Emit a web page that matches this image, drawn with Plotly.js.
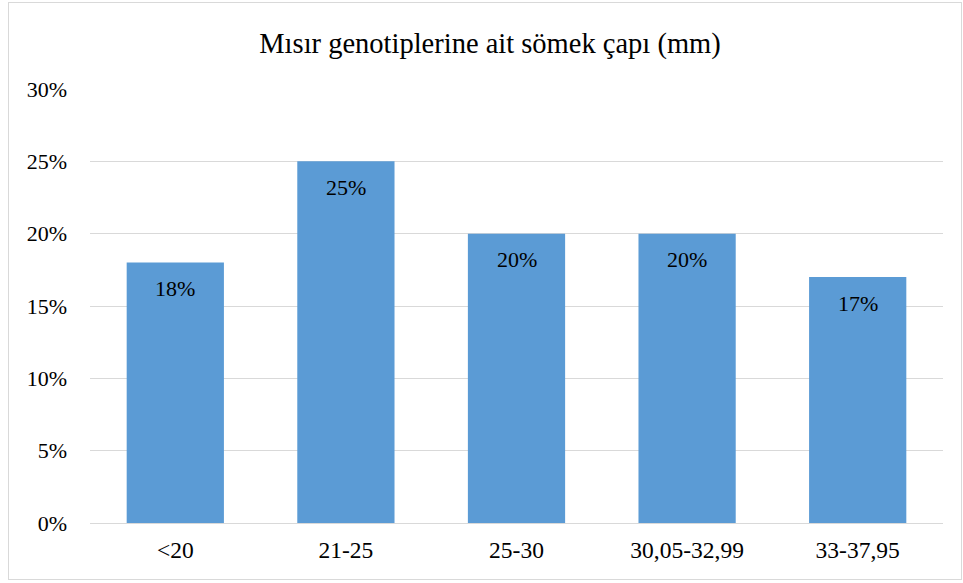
<!DOCTYPE html>
<html>
<head>
<meta charset="utf-8">
<script src="https://cdn.plot.ly/plotly-3.0.1.min.js"></script>
<style>
  html, body { margin: 0; padding: 0; background: #fff; }
  #chart { width: 963px; height: 583px; position: relative; }
  #frame { position: absolute; left: 8px; top: 2px; width: 952px; height: 576px;
           border: 1px solid #d9d9d9; pointer-events: none; }
</style>
</head>
<body>
<div id="chart"><div id="frame"></div></div>
<script>
// Sömek çapı sınıfları ve oranları
const siniflar = ['<20', '21-25', '25-30', '30,05-32,99', '33-37,95'];
const oranlar = [0.18, 0.25, 0.20, 0.20, 0.17];
const etiketler = ['18%', '25%', '20%', '20%', '17%'];

const yaziTipi = 'Liberation Serif, Times New Roman, serif';

const data = [{
    x: siniflar,
    y: oranlar,
    type: 'bar',
    marker: { color: '#5b9bd5' },
    hoverinfo: 'none'
}];

// Etiketler çubuğun üst kısmının biraz altında
const notlar = siniflar.map((s, i) => ({
    x: s,
    y: oranlar[i],
    text: etiketler[i],
    showarrow: false,
    yanchor: 'middle',
    yshift: -26,
    font: { family: yaziTipi, size: 22, color: '#000' }
}));

const layout = {
    width: 963,
    height: 583,
    margin: { l: 90, r: 20, t: 89, b: 60 },
    paper_bgcolor: 'rgba(0,0,0,0)',
    plot_bgcolor: '#fff',
    bargap: 0.43,
    showlegend: false,
    font: { family: yaziTipi, size: 22, color: '#000' },
    title: {
        text: 'Mısır genotiplerine ait sömek çapı (mm)',
        font: { family: yaziTipi, size: 28.5, color: '#000' },
        x: 490 / 963,
        xref: 'container',
        xanchor: 'center',
        y: 1 - 43 / 583,
        yref: 'container',
        yanchor: 'middle'
    },
    xaxis: {
        type: 'category',
        showgrid: false,
        showline: true,
        linecolor: '#d9d9d9',
        linewidth: 1,
        ticks: '',
        ticklabelstandoff: 6,
        tickfont: { family: yaziTipi, size: 23.5, color: '#000' }
    },
    yaxis: {
        range: [0, 0.30],
        dtick: 0.05,
        tickformat: '.0%',
        showgrid: true,
        gridcolor: '#d9d9d9',
        gridwidth: 1,
        zeroline: false,
        showline: false,
        ticks: '',
        ticklabelstandoff: 22,
        tickfont: { family: yaziTipi, size: 22, color: '#000' }
    },
    annotations: notlar
};

Plotly.newPlot('chart', data, layout, { staticPlot: true, displayModeBar: false });
</script>
</body>
</html>
